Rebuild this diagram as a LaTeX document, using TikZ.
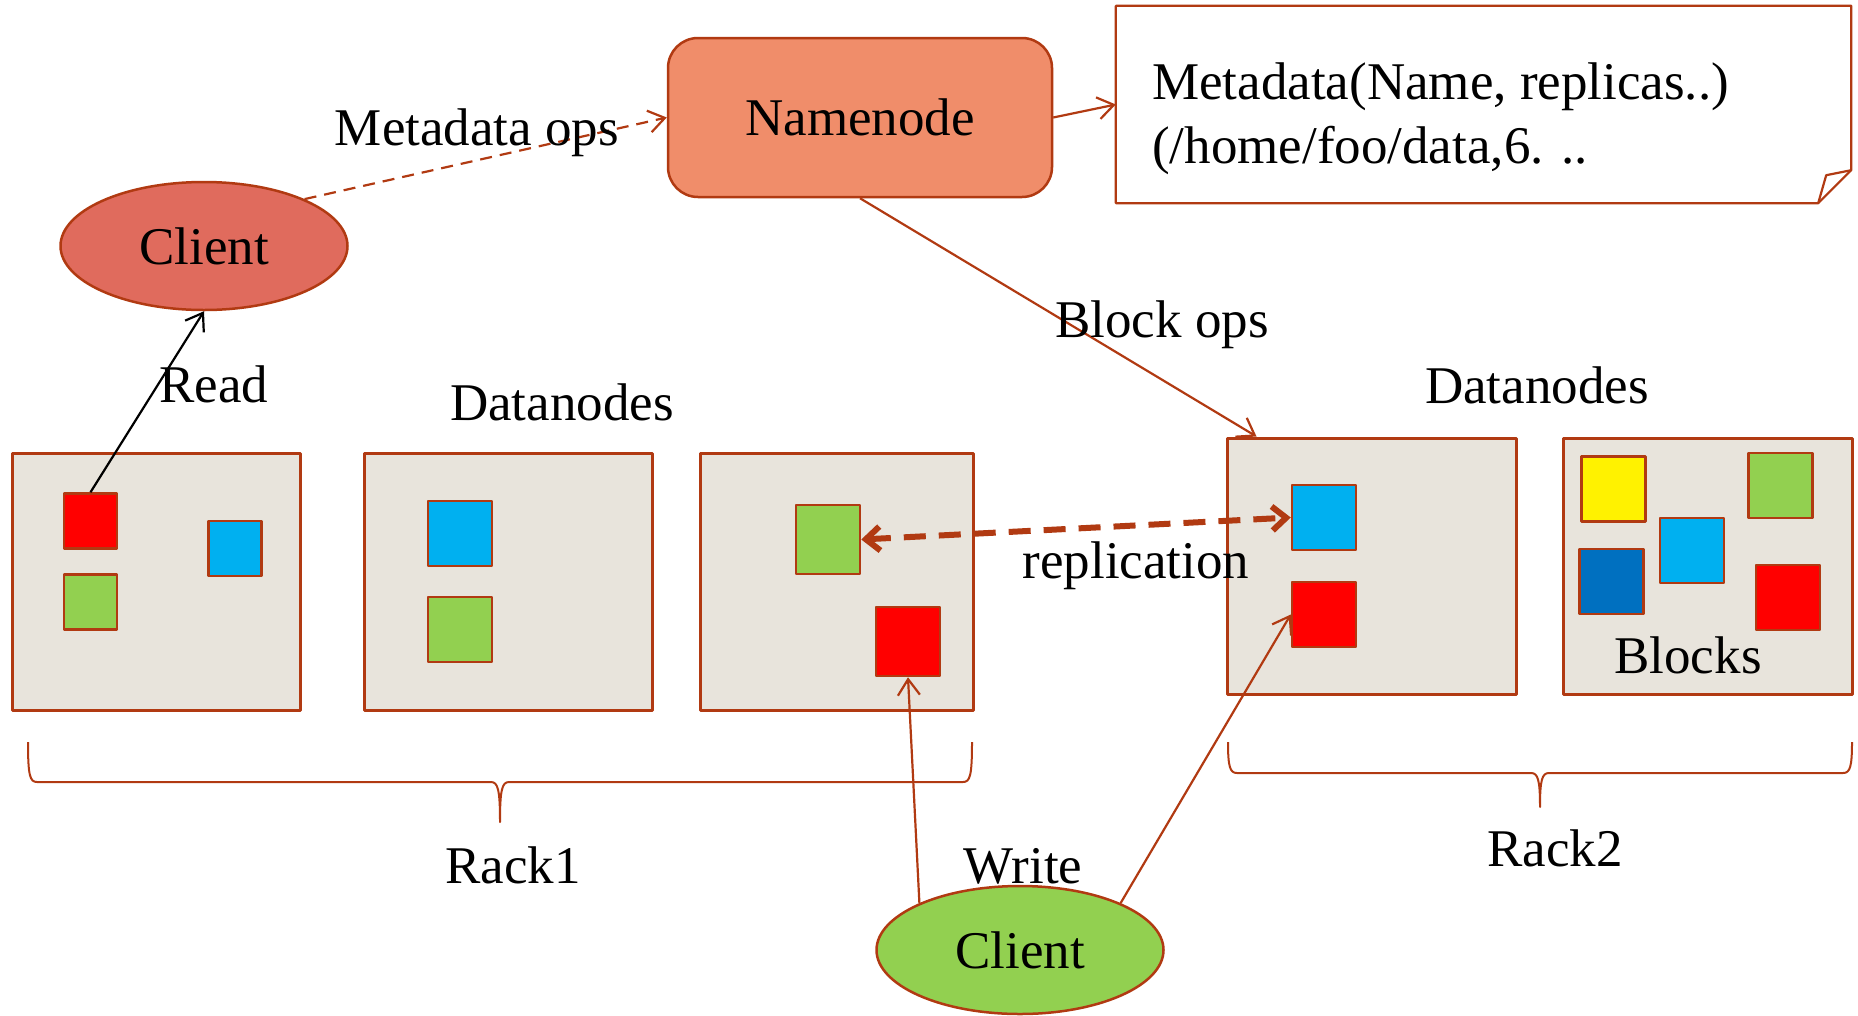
\documentclass[tikz,border=0pt]{standalone}
\usepackage{fontspec}
\setmainfont{Liberation Serif}
\usetikzlibrary{arrows.meta,calc,positioning,shapes.geometric}
\definecolor{hdedge}{RGB}{177,58,18}
\definecolor{hdname}{RGB}{240,141,106}
\definecolor{hdclient}{RGB}{224,107,93}
\definecolor{hdgreen}{RGB}{146,208,80}
\definecolor{hdsky}{RGB}{0,176,240}
\definecolor{hdnavy}{RGB}{0,112,192}
\definecolor{hdbox}{RGB}{232,228,220}

\begin{document}
\begin{tikzpicture}[x=1pt,y=-1pt,font=\fontsize{53}{64}\selectfont,line join=round,
    >={Straight Barb[length=16pt,width=22pt]},
    dnode/.style={draw=hdedge,line width=3pt,fill=hdbox,minimum height=257pt,inner sep=0pt},
    blk/.style={draw=hdedge,line width=2.5pt,minimum width=64pt,minimum height=65pt,inner sep=0pt},
    smallblk/.style={blk,minimum width=53pt,minimum height=55pt},
    client/.style={ellipse,draw=hdedge,line width=2.5pt,minimum width=287pt,minimum height=128pt,inner sep=0pt},
    link/.style={draw=hdedge,line width=2.2pt},
    rep/.style={draw=hdedge,line width=6pt,dash pattern=on 22pt off 13pt,
      >={Straight Barb[length=14pt,width=24pt]}},
    lbl/.style={anchor=base,inner sep=0pt}]
  \useasboundingbox (0,0) rectangle (1858,1015);

  % namenode and metadata
  \node (nn) [draw=hdedge,line width=2.5pt,fill=hdname,rounded corners=30pt,
    minimum width=384pt,minimum height=159pt,inner sep=0pt] at (860,117.5) {Namenode};
  \node (notebox) [minimum width=735pt,minimum height=197pt,inner sep=0pt] at (1483.5,104.5) {};
  \draw[link,fill=white] (notebox.north west) -- (notebox.north east)
    -- ([yshift=33pt]notebox.south east) -- ([xshift=-33pt]notebox.south east)
    -- (notebox.south west) -- cycle;
  \draw[link] ([yshift=33pt]notebox.south east) -- ([xshift=-25pt,yshift=28pt]notebox.south east)
    -- ([xshift=-33pt]notebox.south east);
  \node (notetext) [anchor=north west,inner sep=0pt,align=left] at (1152,63)
    {Metadata(Name, replicas..)\\(/home/foo/data,6. ..};

  % clients
  \node (cl) [client,fill=hdclient] at (204,246) {Client};
  \node (wc) [client,fill=hdgreen] at (1020,950) {Client};

  % datanodes, rack 1
  \node (dn1) [dnode,minimum width=288pt] at (156,581.5) {};
  \node (dn2) [dnode,minimum width=288pt] at (508,581.5) {};
  \node (dn3) [dnode,minimum width=273pt] at (836.5,581.5) {};
  \node (r1) [smallblk,fill=red] at (90.5,521) {};
  \node (g1) [smallblk,fill=hdgreen] at (90.5,602) {};
  \node (b1) [smallblk,fill=hdsky] at (235,548.5) {};
  \node (b2) [blk,fill=hdsky] at (460,533.5) {};
  \node (g2) [blk,fill=hdgreen] at (460,629.5) {};
  \node (g3) [blk,fill=hdgreen,minimum height=69pt] at (828,539.5) {};
  \node (r3) [blk,fill=red,minimum height=69pt] at (908,641.5) {};

  % datanodes, rack 2
  \node (dn4) [dnode,minimum width=289pt,minimum height=256pt] at (1371.5,566) {};
  \node (dn5) [dnode,minimum width=289pt,minimum height=256pt] at (1707.5,566) {};
  \node (b4) [blk,fill=hdsky] at (1324,517.5) {};
  \node (r4) [blk,fill=red] at (1324,614.5) {};
  \node (y5) [blk,fill=yellow] at (1613.5,489) {};
  \node (g5) [blk,fill=hdgreen] at (1780.5,485.5) {};
  \node (b5) [blk,fill=hdsky] at (1692,550.5) {};
  \node (d5) [blk,fill=hdnavy] at (1611.5,581.5) {};
  \node (r5) [blk,fill=red] at (1788,597.5) {};
  \node (blocks) [lbl] at (1688,673) {Blocks};

  % braces
  \draw[link,line width=2pt] (28,742) .. controls (28,776) and (30,782) .. (37,782) -- (491,782)
    .. controls (498,782) and (500,790) .. (500,822) .. controls (500,790) and (502,782) .. (509,782)
    -- (963,782) .. controls (970,782) and (972,776) .. (972,742);
  \draw[link,line width=2pt] (1228,742) .. controls (1228,767) and (1230,773) .. (1237,773) -- (1531,773)
    .. controls (1538,773) and (1540,780) .. (1540,807) .. controls (1540,780) and (1542,773) .. (1549,773)
    -- (1843,773) .. controls (1850,773) and (1852,767) .. (1852,742);

  % labels
  \node (dnl) [lbl] at (562,420) {Datanodes};
  \node (dnr) [lbl] at (1537,403) {Datanodes};
  \node (rack1) [lbl] at (513,883) {Rack1};
  \node (rack2) [lbl] at (1555,866) {Rack2};
  \node (wrt) [lbl] at (1023,883) {Write};

  % connectors
  \draw[link,dash pattern=on 12pt off 8pt,->] (cl.25) -- (nn.west);
  \node (mops) [lbl] at (477,145) {Metadata ops};
  \draw[link,->] (nn.east) -- (notebox.west);
  \draw[link,->] (nn.south) -- ($(dn4.north west)+(31,0)$);
  \node (bops) [lbl] at (1162,337) {Block ops};
  \draw[black,line width=2.2pt,->] (r1.north) -- (cl.south);
  \node (rd) [lbl] at (214,402) {Read};
  \draw[rep,<->] (g3.east) -- (b4.west);
  \node (repl) [lbl] at (1136,578) {replication};
  \draw[link,->] (wc.155) -- (r3.south);
  \draw[link,->] (wc.25) -- (r4.west);
\end{tikzpicture}
\end{document}
